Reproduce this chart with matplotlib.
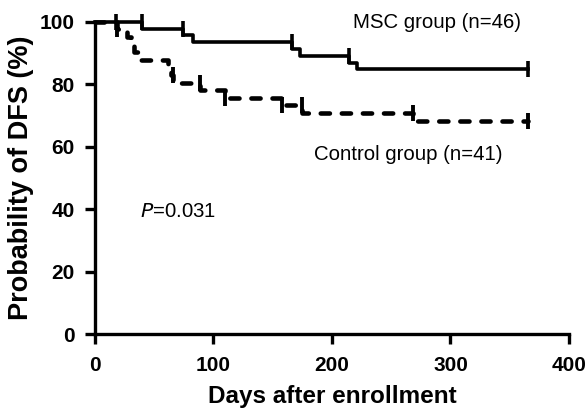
import matplotlib
matplotlib.use("Agg")
import matplotlib.pyplot as plt

plt.rcParams['font.family'] = ['Liberation Sans', 'DejaVu Sans']

# MSC group (n=46): step times (days) and DFS (%)
msc_days = [0, 40, 74, 83, 166, 173, 214, 221, 365]
msc_dfs = [100, 97.8, 95.6, 93.4, 91.2, 89.0, 86.8, 84.8, 84.8]
msc_censor_days = [18, 40, 74, 166, 214, 365]
msc_censor_dfs = [100, 100, 97.8, 93.4, 89.0, 84.8]

# Control group (n=41)
ctl_days = [0, 19, 27, 30, 33, 36, 62, 64, 66, 89, 110, 158, 175, 268, 365]
ctl_dfs = [100, 97.6, 95.1, 92.7, 90.2, 87.8, 85.4, 82.9, 80.5, 78.0, 75.6,
           73.2, 70.7, 68.3, 68.3]
ctl_censor_days = [19, 66, 89, 110, 158, 175, 268, 365]
ctl_censor_dfs = [97.6, 82.9, 80.5, 75.6, 73.2, 73.2, 70.7, 68.3]

fig = plt.figure(figsize=(5.87, 4.12), dpi=100)
ax = fig.add_axes([0.1618, 0.1886, 0.8075, 0.7587])

ax.step(msc_days, msc_dfs, where='post', color='black', lw=2.6,
        clip_on=False, zorder=3)
ax.plot(msc_censor_days, msc_censor_dfs, ls='none', marker='|', ms=11,
        mew=2.6, color='black', clip_on=False, zorder=3)

ax.step(ctl_days, ctl_dfs, where='post', color='black', lw=3.3,
        dashes=(2.0, 2.6), dash_capstyle='round', clip_on=False, zorder=3)
ax.plot(ctl_censor_days, ctl_censor_dfs, ls='none', marker='|', ms=11,
        mew=2.8, color='black', clip_on=False, zorder=3)

ax.set_xlim(0, 400)
ax.set_ylim(0, 100)
ax.set_xticks([0, 100, 200, 300, 400])
ax.set_yticks([0, 20, 40, 60, 80, 100])

for s in ['top', 'right']:
    ax.spines[s].set_visible(False)
for s in ['left', 'bottom']:
    ax.spines[s].set_linewidth(2.4)

ax.tick_params(direction='out', length=7.5, width=2.4, labelsize=15, pad=7)
ax.tick_params(axis='x', pad=8)
for lab in ax.get_xticklabels() + ax.get_yticklabels():
    lab.set_fontweight('bold')

ax.set_xlabel('Days after enrollment', fontsize=17.5, fontweight='bold', labelpad=7)
ax.set_ylabel('Probability of DFS (%)', fontsize=19.5, fontweight='bold', labelpad=4)

ax.text(218, 99.6, 'MSC group (n=46)', fontsize=14.7, ha='left', va='center')
ax.text(185, 57.4, 'Control group (n=41)', fontsize=14.7, ha='left', va='center')
ax.text(38, 39.4, '$\\it{P}$=0.031', fontsize=14.7, ha='left', va='center')

fig.savefig('out.png', dpi=100)
